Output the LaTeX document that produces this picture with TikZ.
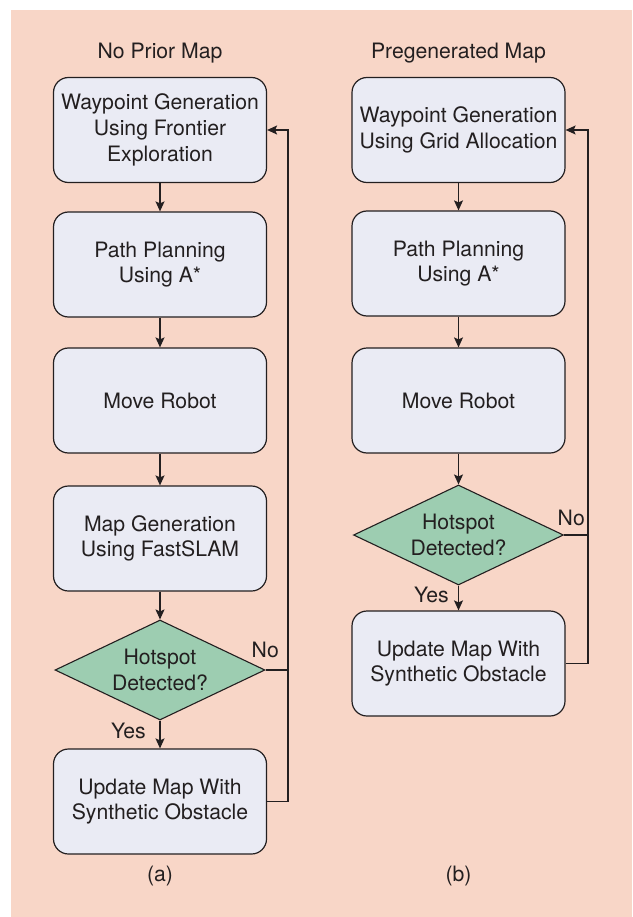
\documentclass[tikz,border=0pt]{standalone}
\usepackage{fontspec}
\setmainfont{TeX Gyre Heros}
\usetikzlibrary{shapes.geometric,arrows.meta}
\definecolor{bgpeach}{HTML}{F8D6C7}
\definecolor{boxfill}{HTML}{EAEBF4}
\definecolor{diafill}{HTML}{9DCDB1}
\definecolor{ink}{HTML}{231F20}
\begin{document}
\begin{tikzpicture}[x=1pt,y=-1pt,
  every node/.style={font=\fontsize{21.2}{25.7}\selectfont, text=ink},
  procbox/.style={draw=ink, line width=1.2pt, fill=boxfill, rounded corners=15pt,
    minimum width=213pt, minimum height=105pt, align=center, inner sep=0pt},
  decision/.style={diamond, draw=ink, line width=1.1pt, fill=diafill,
    minimum width=210pt, minimum height=100pt, aspect=2.1, inner sep=0pt, align=center},
  flow/.style={draw=ink, line width=1.2pt, -{Stealth[length=10pt,width=9pt,inset=2pt]}},
  loopline/.style={draw=ink, line width=1.2pt},
  lbl/.style={inner sep=0pt}]
\useasboundingbox (0,0) rectangle (632,917);
\fill[bgpeach] (11,10) rectangle (632,917);

% ---------- left column (a)
\node[lbl] (Ltitle) at (160,53) {No Prior Map};
\node[procbox] (L1) at (160,130) {Waypoint Generation\\Using Frontier\\Exploration};
\node[procbox] (L2) at (160,264.5) {Path Planning\\Using A*};
\node[procbox] (L3) at (160,400.5) {Move Robot};
\node[procbox] (L4) at (160,538.5) {Map Generation\\Using FastSLAM};
\node[decision] (L5) at (160,670) {Hotspot\\Detected?};
\node[procbox] (L6) at (160,801.5) {Update Map With\\Synthetic Obstacle};
\node[lbl] (La) at (160,876) {(a)};
\coordinate (Lback) at (288,0);

\draw[flow] (L1) -- (L2);
\draw[flow] (L2) -- (L3);
\draw[flow] (L3) -- (L4);
\draw[flow] (L4) -- (L5);
\draw[flow] (L5) -- (L6);
\draw[loopline] (L5.east) -- (L5.east -| Lback);
\draw[flow] (L6.east) -- (L6.east -| Lback) -- (L1.east -| Lback) -- (L1.east);
\node[lbl, anchor=east] (Lyes) at (146,731) {Yes};
\node[lbl, anchor=east] (Lno) at (279,650) {No};

% ---------- right column (b)
\node[lbl] (Rtitle) at (458.5,53) {Pregenerated Map};
\node[procbox] (R1) at (458.5,130) {Waypoint Generation\\Using Grid Allocation};
\node[procbox] (R2) at (458.5,263.5) {Path Planning\\Using A*};
\node[procbox] (R3) at (458.5,400.5) {Move Robot};
\node[decision] (R4) at (458.5,535) {Hotspot\\Detected?};
\node[procbox] (R5) at (458.5,663.5) {Update Map With\\Synthetic Obstacle};
\node[lbl] (Rb) at (458.5,876) {(b)};
\coordinate (Rback) at (588,0);

\draw[flow] (R1) -- (R2);
\draw[flow] (R2) -- (R3);
\draw[flow] (R3) -- (R4);
\draw[flow] (R4) -- (R5);
\draw[loopline] (R4.east) -- (R4.east -| Rback);
\draw[flow] (R5.east) -- (R5.east -| Rback) -- (R1.east -| Rback) -- (R1.east);
\node[lbl, anchor=east] (Ryes) at (449,595) {Yes};
\node[lbl, anchor=east] (Rno) at (585,518) {No};
\end{tikzpicture}
\end{document}
